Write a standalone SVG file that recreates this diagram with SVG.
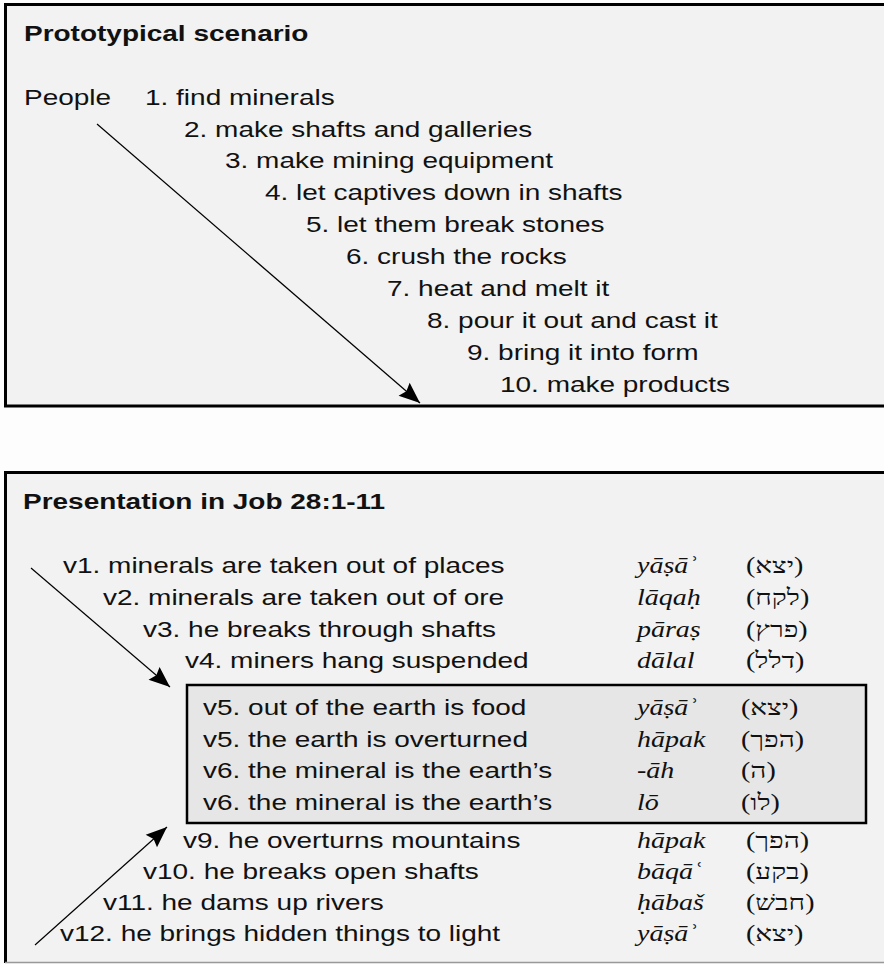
<svg xmlns="http://www.w3.org/2000/svg" width="884" height="964" viewBox="0 0 884 964">
<style>
.t{font-family:"Liberation Sans",Arial,sans-serif;font-size:22.5px;fill:#111}
.b{font-weight:bold}
.tr{font-family:"Liberation Serif","Times New Roman",serif;font-style:italic;font-size:22.5px;fill:#111}
.he{font-family:"Liberation Serif","DejaVu Serif",serif;font-size:22.5px;fill:#111}
.box{fill:#f2f2f2;stroke:#000;stroke-width:3}
.conn{stroke:#000;stroke-width:1.2;fill:none;marker-end:url(#ah)}
</style>
<defs>
<marker id="ah" viewBox="-23 -10 24 20" refX="0" refY="0" markerWidth="24" markerHeight="20" orient="auto" markerUnits="userSpaceOnUse">
<path d="M0,0 L-21,-8.5 L-18,0 L-21,8.5 Z" fill="#000"/>
</marker>
</defs>
<rect width="884" height="964" fill="#fdfdfd"/>

<g id="box-top">
<rect class="box" x="5.5" y="4.5" width="890" height="401.5"/>
<text class="t b" transform="translate(24 41) scale(1.244 1)">Prototypical scenario</text>
<text class="t" transform="translate(24 105) scale(1.244 1)">People</text>
<text class="t" transform="translate(145 105) scale(1.244 1)">1. find minerals</text>
<text class="t" transform="translate(184 137) scale(1.244 1)">2. make shafts and galleries</text>
<text class="t" transform="translate(225 168) scale(1.244 1)">3. make mining equipment</text>
<text class="t" transform="translate(265 200) scale(1.244 1)">4. let captives down in shafts</text>
<text class="t" transform="translate(306 232) scale(1.244 1)">5. let them break stones</text>
<text class="t" transform="translate(346 264) scale(1.244 1)">6. crush the rocks</text>
<text class="t" transform="translate(387 296) scale(1.244 1)">7. heat and melt it</text>
<text class="t" transform="translate(427 328) scale(1.244 1)">8. pour it out and cast it</text>
<text class="t" transform="translate(467 360) scale(1.244 1)">9. bring it into form</text>
<text class="t" transform="translate(500 392) scale(1.244 1)">10. make products</text>
</g>

<g id="box-bottom">
<rect x="5.5" y="472.5" width="890" height="490" fill="#f2f2f2"/>
<path d="M5.5,963 V472.5 H884" stroke="#000" stroke-width="3" fill="none"/>
<line x1="5" y1="962.5" x2="884" y2="962.5" stroke="#999" stroke-width="1.5"/>
<text class="t b" transform="translate(23 509) scale(1.244 1)">Presentation in Job 28:1-11</text>
<text class="t" transform="translate(63 573) scale(1.244 1)">v1. minerals are taken out of places</text>
<text class="t" transform="translate(103 605) scale(1.244 1)">v2. minerals are taken out of ore</text>
<text class="t" transform="translate(143 637) scale(1.244 1)">v3. he breaks through shafts</text>
<text class="t" transform="translate(185 668) scale(1.244 1)">v4. miners hang suspended</text>
<text class="tr" transform="translate(637 573) scale(1.244 1)">yāṣāʾ</text>
<text class="tr" transform="translate(637 605) scale(1.244 1)">lāqaḥ</text>
<text class="tr" transform="translate(637 637) scale(1.244 1)">pāraṣ</text>
<text class="tr" transform="translate(637 668) scale(1.244 1)">dālal</text>
<text class="he" transform="translate(746 573) scale(1.244 1)">(יצא)</text>
<text class="he" transform="translate(746 605) scale(1.244 1)">(לקח)</text>
<text class="he" transform="translate(746 637) scale(1.244 1)">(פרץ)</text>
<text class="he" transform="translate(746 668) scale(1.244 1)">(דלל)</text>
</g>

<g id="box-inner">
<rect x="187" y="685" width="679" height="138" fill="#e6e6e6" stroke="#000" stroke-width="2.5"/>
<text class="t" transform="translate(203 715) scale(1.244 1)">v5. out of the earth is food</text>
<text class="t" transform="translate(203 747) scale(1.244 1)">v5. the earth is overturned</text>
<text class="t" transform="translate(203 778) scale(1.244 1)">v6. the mineral is the earth’s</text>
<text class="t" transform="translate(203 810) scale(1.244 1)">v6. the mineral is the earth’s</text>
<text class="tr" transform="translate(637 715) scale(1.244 1)">yāṣāʾ</text>
<text class="tr" transform="translate(637 747) scale(1.244 1)">hāpak</text>
<text class="tr" transform="translate(637 778) scale(1.244 1)">-āh</text>
<text class="tr" transform="translate(637 810) scale(1.244 1)">lō</text>
<text class="he" transform="translate(741 715) scale(1.244 1)">(יצא)</text>
<text class="he" transform="translate(741 747) scale(1.244 1)">(הפך)</text>
<text class="he" transform="translate(741 778) scale(1.244 1)">(ה)</text>
<text class="he" transform="translate(741 810) scale(1.244 1)">(לו)</text>
</g>

<g id="lower-lines">
<text class="t" transform="translate(183 848) scale(1.244 1)">v9. he overturns mountains</text>
<text class="t" transform="translate(143 879) scale(1.244 1)">v10. he breaks open shafts</text>
<text class="t" transform="translate(103 910) scale(1.244 1)">v11. he dams up rivers</text>
<text class="t" transform="translate(60 941) scale(1.244 1)">v12. he brings hidden things to light</text>
<text class="tr" transform="translate(637 848) scale(1.244 1)">hāpak</text>
<text class="tr" transform="translate(637 879) scale(1.244 1)">bāqāʿ</text>
<text class="tr" transform="translate(637 910) scale(1.244 1)">ḥābaš</text>
<text class="tr" transform="translate(637 941) scale(1.244 1)">yāṣāʾ</text>
<text class="he" transform="translate(746 848) scale(1.244 1)">(הפך)</text>
<text class="he" transform="translate(746 879) scale(1.244 1)">(בקע)</text>
<text class="he" transform="translate(746 910) scale(1.244 1)">(חבשׁ)</text>
<text class="he" transform="translate(746 941) scale(1.244 1)">(יצא)</text>
</g>

<g id="connectors">
<line class="conn" x1="97" y1="124" x2="420" y2="403"/>
<line class="conn" x1="31" y1="568" x2="170" y2="687"/>
<line class="conn" x1="35" y1="945" x2="167" y2="827"/>
</g>
</svg>
